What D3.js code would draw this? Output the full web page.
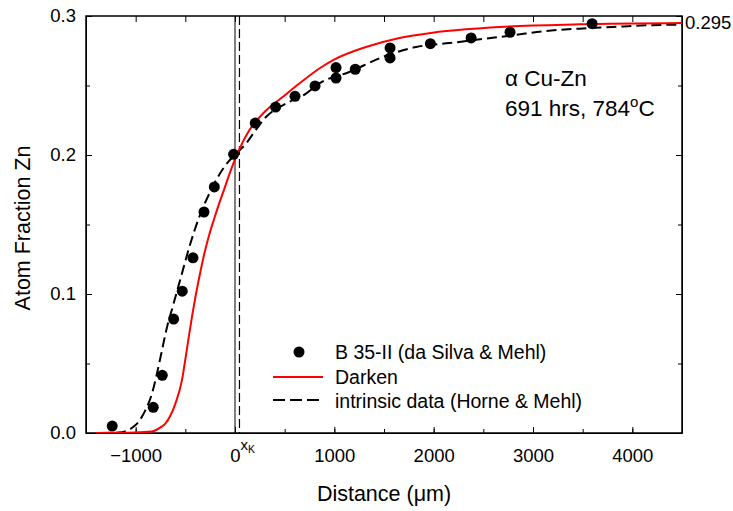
<!DOCTYPE html>
<html>
<head>
<meta charset="utf-8">
<script src="https://cdn.jsdelivr.net/npm/d3@7"></script>
<style>
  body { margin: 0; background: #fff; }
  svg { font-family: "Liberation Sans", Arial, sans-serif; }
  .axis path, .axis line { stroke: #000; }
  .axis text { font-size: 18.5px; fill: #000; }
</style>
</head>
<body>
<script>
// measured points B 35-II (da Silva & Mehl)
var pointX = [-1236, -823, -732, -618, -531, -423, -312, -208, -14, 204, 409, 604, 806, 1017, 1017, 1211, 1561, 1561, 1967, 2377, 2769, 3595];
var pointY = [0.005, 0.0185, 0.0415, 0.082, 0.102, 0.126, 0.159, 0.177, 0.2005, 0.223, 0.2345, 0.2422, 0.2497, 0.2629, 0.2554, 0.2617, 0.277, 0.2698, 0.2801, 0.2842, 0.2883, 0.2945];

// Darken curve (red)
var darkenX = [-1400, -1000, -836, -750, -702, -601, -534, -500, -470, -430, -393, -350, -309, -260, -208, -160, -108, -50, 10, 144, 312, 479, 648, 849, 983, 1319, 1655, 1990, 2326, 2662, 3467, 4500];
var darkenY = [0, 0.0003, 0.001, 0.004, 0.0068, 0.021, 0.038, 0.053, 0.067, 0.085, 0.1, 0.1155, 0.129, 0.1425, 0.1545, 0.165, 0.1755, 0.1875, 0.1986, 0.2178, 0.232, 0.2417, 0.2514, 0.2622, 0.2681, 0.2777, 0.2842, 0.288, 0.2904, 0.2921, 0.294, 0.295];

// intrinsic data curve (dashed)
var intrinsicX = [-1350, -1172, -1004, -903, -836, -786, -735, -690, -628, -544, -460, -360, -242, -108, -7, 111, 194, 312, 513, 715, 849, 1151, 1487, 1823, 2158, 2494, 2796, 3131, 3467, 3803, 4138, 4500];
var intrinsicY = [0, 0.0003, 0.0055, 0.0163, 0.0283, 0.0427, 0.0595, 0.0745, 0.0906, 0.1122, 0.1338, 0.1554, 0.1746, 0.1914, 0.1998, 0.2082, 0.2165, 0.2273, 0.237, 0.2442, 0.2515, 0.2597, 0.2705, 0.2777, 0.2805, 0.2835, 0.2861, 0.2892, 0.2909, 0.2921, 0.2933, 0.2938];

var xTicks = [-1000, 0, 1000, 2000, 3000, 4000];
var yTicks = [0, 0.1, 0.2, 0.3];
var interfaceX = 0;      // solid marker line
var kirkendallX = 45;    // x_K, dashed marker line
var plateau = 0.295;

var margin = {top: 16, right: 51, bottom: 78, left: 86},
    w = 733 - margin.left - margin.right,
    h = 511 - margin.top - margin.bottom;

var xScale = d3.scaleLinear().domain([-1500, 4500]).range([0, w]);
var yScale = d3.scaleLinear().domain([0, 0.3]).range([h, 0]);

var svg = d3.select("body").append("svg")
    .attr("width", 733)
    .attr("height", 511)
  .append("g")
    .attr("transform", "translate(" + margin.left + "," + margin.top + ")");

svg.append("defs").append("clipPath").attr("id", "clip")
  .append("rect").attr("width", w).attr("height", h);

// minor ticks
var minorX = d3.range(-1500, 4501, 500);
var minorY = d3.range(0, 0.3001, 0.05);
svg.append("g").attr("class", "axis").attr("transform", "translate(0," + h + ")")
  .call(d3.axisBottom(xScale).tickValues(minorX).tickSize(-4).tickFormat(""))
  .call(function(g) { g.select(".domain").remove(); });
svg.append("g").attr("class", "axis")
  .call(d3.axisTop(xScale).tickValues(minorX).tickSize(-6).tickFormat(""))
  .call(function(g) { g.select(".domain").remove(); });
svg.append("g").attr("class", "axis")
  .call(d3.axisLeft(yScale).tickValues(minorY).tickSize(-4).tickFormat(""))
  .call(function(g) { g.select(".domain").remove(); });
svg.append("g").attr("class", "axis").attr("transform", "translate(" + w + ",0)")
  .call(d3.axisRight(yScale).tickValues(minorY).tickSize(-4).tickFormat(""))
  .call(function(g) { g.select(".domain").remove(); });

// major axes
var xAxis = d3.axisBottom(xScale).tickValues(xTicks).tickSizeInner(-6).tickSizeOuter(0).tickPadding(16)
    .tickFormat(d3.format("d"));
var yAxis = d3.axisLeft(yScale).tickValues(yTicks).tickSizeInner(-6).tickSizeOuter(0).tickPadding(10)
    .tickFormat(d3.format(".1f"));
svg.append("g").attr("class", "axis").attr("transform", "translate(0," + h + ")").call(xAxis);
svg.append("g").attr("class", "axis").call(yAxis);
svg.append("g").attr("class", "axis").attr("transform", "translate(" + w + ",0)")
  .call(d3.axisRight(yScale).tickValues(yTicks).tickSizeInner(-6).tickSizeOuter(0).tickFormat(""));

// frame
svg.append("rect").attr("width", w).attr("height", h)
  .attr("fill", "none").attr("stroke", "#000").attr("stroke-width", 1.5);

// marker lines
svg.append("line").attr("x1", xScale(interfaceX)).attr("x2", xScale(interfaceX))
  .attr("y1", 0).attr("y2", h).attr("stroke", "#000").attr("stroke-width", 1);
svg.append("line").attr("x1", xScale(kirkendallX)).attr("x2", xScale(kirkendallX))
  .attr("y1", 0).attr("y2", h).attr("stroke", "#000").attr("stroke-width", 1.2)
  .attr("stroke-dasharray", "9,4");

var line = d3.line()
  .x(function(d) { return xScale(d[0]); })
  .y(function(d) { return yScale(d[1]); })
  .curve(d3.curveMonotoneX);

var plotArea = svg.append("g").attr("clip-path", "url(#clip)");

plotArea.append("path").attr("d", line(d3.zip(intrinsicX, intrinsicY)))
  .attr("fill", "none").attr("stroke", "#000").attr("stroke-width", 2)
  .attr("stroke-dasharray", "10,5");

plotArea.append("path").attr("d", line(d3.zip(darkenX, darkenY)))
  .attr("fill", "none").attr("stroke", "#ff0000").attr("stroke-width", 2);

//draw points
svg.selectAll(".dot")
  .data(d3.zip(pointX, pointY))
  .enter().append("circle")
  .attr("class", "dot")
  .attr("r", 5.5)
  .attr("cx", function(d) { return xScale(d[0]); })
  .attr("cy", function(d) { return yScale(d[1]); })
  .attr("fill", "#000");

// x_K label next to 0
var xk = svg.append("text").attr("x", xScale(kirkendallX) + 1).attr("y", h + 17)
  .attr("font-size", "15px");
xk.append("tspan").text("x");
xk.append("tspan").attr("font-size", "10.5px").attr("dy", 2.5).text("K");

// plateau label
svg.append("text").attr("x", w + 3).attr("y", yScale(plateau) + 6.5)
  .attr("font-size", "18.5px").text(plateau);

// annotation
svg.append("text").attr("x", 419).attr("y", 70).attr("font-size", "22.5px")
  .text("\u03b1 Cu-Zn");
var ann = svg.append("text").attr("x", 419).attr("y", 100).attr("font-size", "22.5px");
ann.append("tspan").text("691 hrs, 784");
ann.append("tspan").attr("font-size", "15px").attr("dy", -9).text("o");
ann.append("tspan").attr("dy", 9).text("C");

// legend
var leg = svg.append("g").attr("transform", "translate(187,336)");
leg.append("circle").attr("cx", 26).attr("cy", 0).attr("r", 5.5).attr("fill", "#000");
leg.append("line").attr("x1", 0).attr("x2", 50).attr("y1", 25).attr("y2", 25)
  .attr("stroke", "#ff0000").attr("stroke-width", 2);
leg.append("line").attr("x1", 0).attr("x2", 50).attr("y1", 48).attr("y2", 48)
  .attr("stroke", "#000").attr("stroke-width", 2).attr("stroke-dasharray", "12,5");
var legNames = ["B 35-II (da Silva & Mehl)", "Darken", "intrinsic data (Horne & Mehl)"];
leg.selectAll(".legtext").data(legNames).enter().append("text")
  .attr("class", "legtext")
  .attr("x", 62)
  .attr("y", function(d, i) { return i * 24.5 + 7; })
  .attr("font-size", "19.5px")
  .text(function(d) { return d; });

// axis labels
svg.append("text").attr("x", 298).attr("y", 485).attr("text-anchor", "middle")
  .attr("font-size", "21.5px").text("Distance (\u03bcm)");
svg.append("text").attr("transform", "translate(-56," + 212 + ") rotate(-90)")
  .attr("text-anchor", "middle").attr("font-size", "21.5px").text("Atom Fraction Zn");
</script>
</body>
</html>
